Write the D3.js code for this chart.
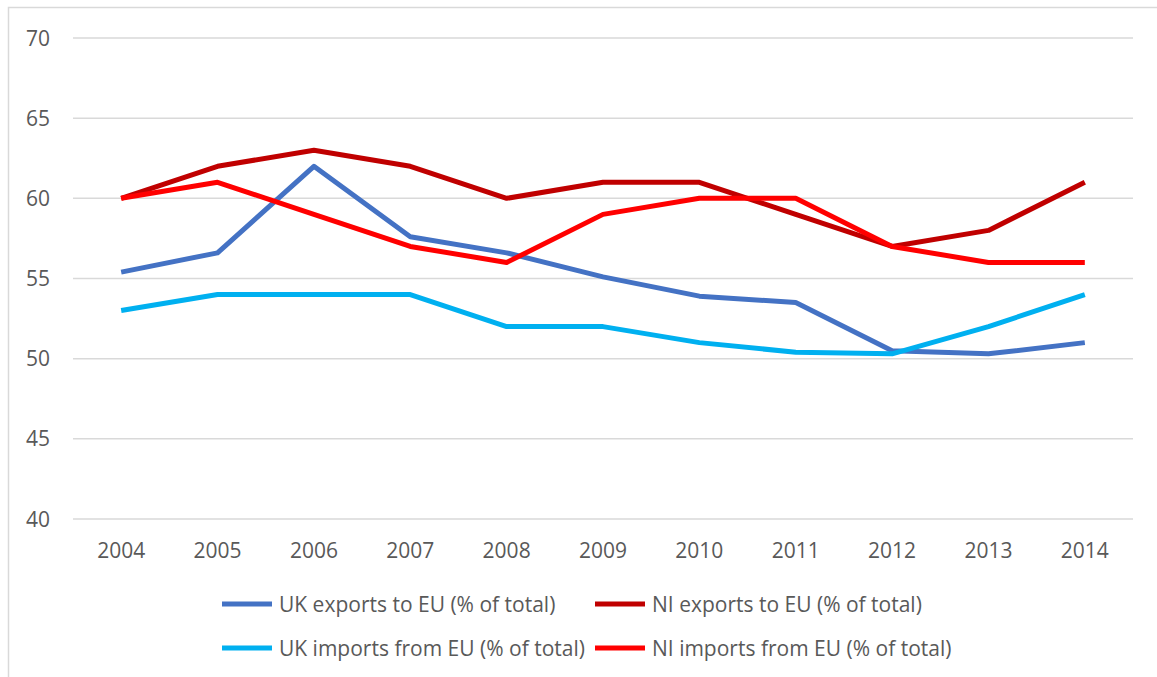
<!DOCTYPE html>
<html>
<head>
    <meta charset="utf-8">
    <title>UK and NI trade with EU</title>
    <style>
        body { margin: 0; background: #fff; }
        text { font-family: "Open Sans", sans-serif; fill: #595959; }
    </style>
</head>
<body>
    <script src="https://d3js.org/d3.v7.min.js"></script>
    <script>
    // Data
    const years = ["2004", "2005", "2006", "2007", "2008", "2009", "2010", "2011", "2012", "2013", "2014"];
    const ukExports = [55.4, 56.6, 62, 57.6, 56.6, 55.1, 53.9, 53.5, 50.5, 50.3, 51];
    const niExports = [60, 62, 63, 62, 60, 61, 61, 59, 57, 58, 61];
    const ukImports = [53, 54, 54, 54, 52, 52, 51, 50.4, 50.3, 52, 54];
    const niImports = [60, 61, 59, 57, 56, 59, 60, 60, 57, 56, 56];
    const yTicks = [40, 45, 50, 55, 60, 65, 70];

    const series = [
        { name: "UK exports to EU (% of total)", values: ukExports, color: "#4472C4" },
        { name: "NI exports to EU (% of total)", values: niExports, color: "#C00000" },
        { name: "UK imports from EU (% of total)", values: ukImports, color: "#00B0F0" },
        { name: "NI imports from EU (% of total)", values: niImports, color: "#FF0000" }
    ];

    const width = 1157, height = 677;
    const plot = { left: 73, right: 1133, top: 38, bottom: 519 };

    const svg = d3.select("body").append("svg")
        .attr("width", width)
        .attr("height", height);

    // chart frame
    svg.append("rect")
        .attr("x", 8.5).attr("y", 7.5)
        .attr("width", width + 20).attr("height", height + 20)
        .attr("fill", "none")
        .attr("stroke", "#d9d9d9")
        .attr("stroke-width", 1.5);

    const x = d3.scaleBand()
        .domain(years)
        .range([plot.left, plot.right]);

    const y = d3.scaleLinear()
        .domain([40, 70])
        .range([plot.bottom, plot.top]);

    // gridlines
    svg.append("g")
        .selectAll("line")
        .data(yTicks)
        .join("line")
        .attr("x1", plot.left).attr("x2", plot.right)
        .attr("y1", d => y(d)).attr("y2", d => y(d))
        .attr("stroke", "#d9d9d9")
        .attr("stroke-width", 1.5);

    // y axis labels
    svg.append("g")
        .selectAll("text")
        .data(yTicks)
        .join("text")
        .attr("x", 50)
        .attr("y", d => y(d))
        .attr("dy", "0.36em")
        .attr("text-anchor", "end")
        .style("font-size", "21px")
        .text(d => d);

    // x axis labels
    svg.append("g")
        .selectAll("text")
        .data(years)
        .join("text")
        .attr("x", d => x(d) + x.bandwidth() / 2)
        .attr("y", 558)
        .attr("text-anchor", "middle")
        .style("font-size", "21px")
        .text(d => d);

    const line = d3.line()
        .x((d, i) => x(years[i]) + x.bandwidth() / 2)
        .y(d => y(d));

    svg.append("g")
        .selectAll("path")
        .data(series)
        .join("path")
        .attr("d", d => line(d.values))
        .attr("fill", "none")
        .attr("stroke", d => d.color)
        .attr("stroke-width", 5)
        .attr("stroke-linejoin", "round");

    // legend
    const legendPos = [[222, 604], [595, 604], [222, 648], [595, 648]];
    const legend = svg.append("g")
        .selectAll("g")
        .data(series)
        .join("g")
        .attr("transform", (d, i) => `translate(${legendPos[i][0]},${legendPos[i][1]})`);

    legend.append("line")
        .attr("x1", 0).attr("x2", 50)
        .attr("y1", 0).attr("y2", 0)
        .attr("stroke", d => d.color)
        .attr("stroke-width", 5);

    legend.append("text")
        .attr("x", 57)
        .attr("dy", "0.36em")
        .style("font-size", "21px")
        .text(d => d.name);
    </script>
</body>
</html>
